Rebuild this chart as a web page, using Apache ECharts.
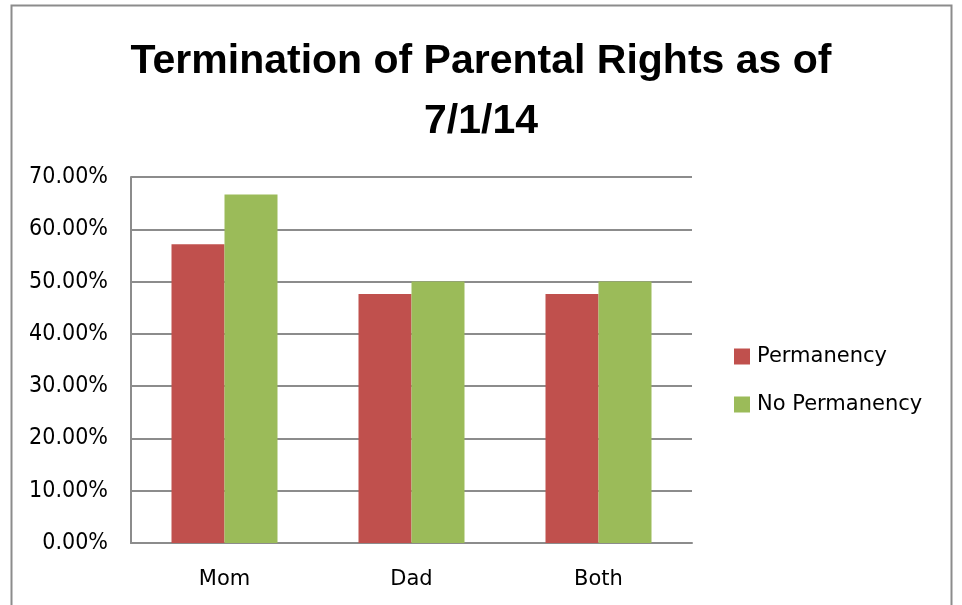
<!DOCTYPE html>
<html><head><meta charset="utf-8">
<script src="https://cdn.jsdelivr.net/npm/echarts@6/dist/echarts.min.js"></script>
<style>html,body{margin:0;padding:0;background:#fff}#c{width:962px;height:605px}</style>
</head><body><div id="c"></div>
<script>
const categories = ['Mom', 'Dad', 'Both'];
const permanency = [0.5714, 0.4762, 0.4762];
const noPermanency = [0.6667, 0.5, 0.5];
const seriesNames = ['Permanency', 'No Permanency'];
const titleText = 'Termination of Parental Rights as of\n7/1/14';

const chart = echarts.init(document.getElementById('c'));
const titleFont = '"Liberation Sans", Arial, sans-serif';
const font = '"DejaVu Sans", sans-serif';
const yFont = '"DejaVu Sans Condensed", "DejaVu Sans", sans-serif';
chart.setOption({
  animation: false,
  backgroundColor: '#fff',
  graphic: [{
    type: 'rect', shape: {x: 11.5, y: 5.5, width: 940, height: 620},
    style: {fill: 'none', stroke: '#8c8c8c', lineWidth: 2}, silent: true, z: -1
  }],
  title: {
    text: titleText, left: 'center', top: 27,
    textStyle: {fontFamily: titleFont, fontWeight: 'bold', fontSize: 41, lineHeight: 60, color: '#000'}
  },
  legend: {
    orient: 'vertical', left: 734, top: 346, padding: 0, itemWidth: 16, itemHeight: 16, itemGap: 27,
    icon: 'rect',
    textStyle: {fontFamily: font, fontSize: 21, color: '#000', padding: [0,0,0,2]},
    data: seriesNames
  },
  grid: {left: 131, right: 270, top: 177, bottom: 62},
  xAxis: {
    type: 'category', data: categories,
    axisLine: {lineStyle: {color: '#8c8c8c', width: 2}},
    axisTick: {show: false},
    axisLabel: {fontFamily: font, fontSize: 21, color: '#000', margin: 26}
  },
  yAxis: {
    type: 'value', min: 0, max: 0.7, interval: 0.1,
    axisLine: {show: true, lineStyle: {color: '#8c8c8c', width: 2}},
    axisTick: {show: false},
    splitLine: {lineStyle: {color: '#8c8c8c', width: 2}},
    axisLabel: {fontFamily: yFont, fontSize: 23, color: '#000', margin: 23,
      formatter: v => (v * 100).toFixed(2) + '%'}
  },
  series: [
    {name: seriesNames[0], type: 'bar', data: permanency, barWidth: 53, barGap: '0%',
     itemStyle: {color: '#C0504D'}},
    {name: seriesNames[1], type: 'bar', data: noPermanency, barWidth: 53, barGap: '0%',
     itemStyle: {color: '#9BBB59'}}
  ]
});
</script></body></html>
